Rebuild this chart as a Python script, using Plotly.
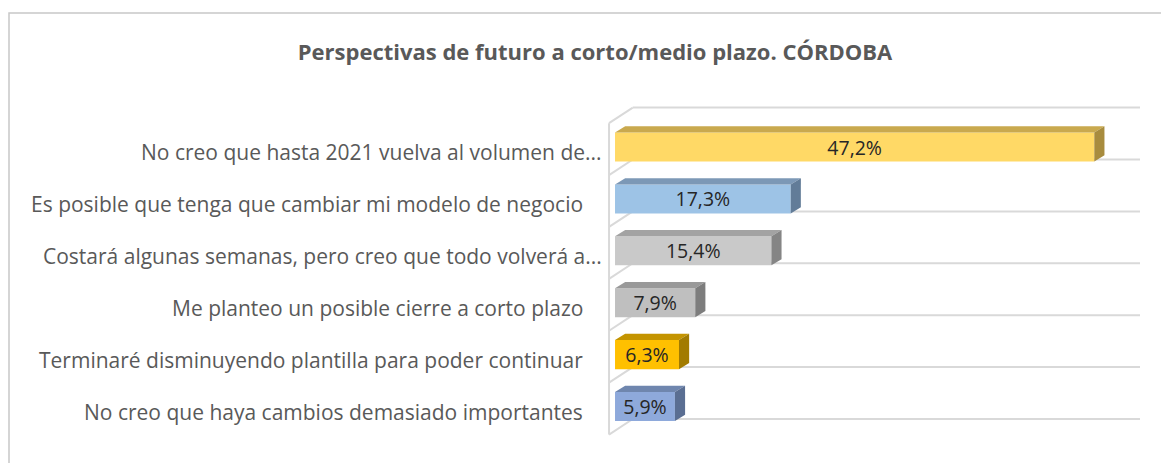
import plotly.graph_objects as go

# ---------------- data ----------------
categories = [
    "No creo que hasta 2021 vuelva al volumen de...",
    "Es posible que tenga que cambiar mi modelo de negocio",
    "Costará algunas semanas, pero creo que todo volverá a...",
    "Me planteo un posible cierre a corto plazo",
    "Terminaré disminuyendo plantilla para poder continuar",
    "No creo que haya cambios demasiado importantes",
]
values = [47.2, 17.3, 15.4, 7.9, 6.3, 5.9]
title_text = "Perspectivas de futuro a corto/medio plazo. CÓRDOBA"

front_colors = ["#FFD966", "#9DC3E6", "#C9C9C9", "#BFBFBF", "#FFC000", "#8EA9DB"]
top_colors = ["#C9A94E", "#7C98B6", "#A3A3A3", "#999999", "#C49400", "#6F86AE"]
side_colors = ["#A88C3E", "#627C98", "#858585", "#7D7D7D", "#A27B00", "#5A6E92"]

FONT = "'Open Sans', Lato, sans-serif"

# ---------------- geometry (style) ----------------
W = 0.56        # bar thickness (category units)
DX = 1.0        # 3D depth in x units
DY = 0.12       # 3D depth in category units
XMIN, XMAX = -0.79, 51.7
YTOP, YBOT = -0.906, 5.645
WALL_X = -0.59
BACK_X = 1.75
OFF = 8  # page body margin in px

L = 607 - OFF
T = 100 - OFF
R = 1169 - (1140 - OFF)
B = 463 - (440 - OFF)
PW = 1169 - L - R
PH = 463 - T - B

pos = list(range(len(categories)))

fig = go.Figure()

# 3D top and side faces of each bar
for i, v in enumerate(values):
    y0 = pos[i] - W / 2
    y1 = pos[i] + W / 2
    fig.add_trace(go.Scatter(
        x=[0, v, v + DX, DX, 0], y=[y0, y0, y0 - DY, y0 - DY, y0],
        fill="toself", fillcolor=top_colors[i], mode="lines",
        line=dict(width=0, color=top_colors[i]), hoverinfo="skip", showlegend=False))
    fig.add_trace(go.Scatter(
        x=[v, v + DX, v + DX, v, v], y=[y0, y0 - DY, y1 - DY, y1, y0],
        fill="toself", fillcolor=side_colors[i], mode="lines",
        line=dict(width=0, color=side_colors[i]), hoverinfo="skip", showlegend=False))

labels = [f"{v:.1f}".replace(".", ",") + "%" for v in values]
fig.add_trace(go.Bar(
    x=values, y=pos, orientation="h", width=W,
    marker=dict(color=front_colors, line=dict(width=0)),
    text=labels, textposition="inside", insidetextanchor="middle",
    constraintext="none",
    textfont=dict(family=FONT, size=19.5, color="#262626"),
    hoverinfo="skip", showlegend=False))

# walls / gridlines (decoration, below traces)
shapes = []
gcol = "#D9D9D9"
for b in [-1] + pos:
    shapes.append(dict(type="line", xref="x", yref="y", x0=BACK_X, x1=XMAX,
                       y0=b + 0.24, y1=b + 0.24, line=dict(color=gcol, width=2), layer="below"))
    shapes.append(dict(type="line", xref="x", yref="y", x0=WALL_X, x1=BACK_X,
                       y0=b + 0.54, y1=b + 0.24, line=dict(color=gcol, width=2), layer="below"))
shapes.append(dict(type="line", xref="x", yref="y", x0=WALL_X, x1=WALL_X,
                   y0=-0.46, y1=pos[-1] + 0.54, line=dict(color=gcol, width=2), layer="below"))
# chart border (left + top)
shapes.append(dict(type="rect", xref="paper", yref="paper",
                   x0=(1 - L) / PW, x1=(1300 - L) / PW,
                   y0=(T + PH - 500) / PH, y1=(T + PH - (13 - OFF)) / PH,
                   line=dict(color="#C8C8C8", width=1.5), layer="below"))

annotations = []
for i, c in enumerate(categories):
    annotations.append(dict(
        x=0, xref="paper", y=pos[i], yref="y", text=c, showarrow=False,
        xanchor="right", yanchor="middle",
        xshift=-3 if c.endswith("...") else -22, yshift=-5,
        font=dict(family=FONT, size=21, color="#595959")))

fig.update_layout(
    width=1169, height=463,
    margin=dict(l=L, r=R, t=T, b=B),
    paper_bgcolor="white", plot_bgcolor="white",
    title=dict(text="<b>" + title_text + "</b>", x=(595 - OFF) / 1169, xref="container",
               xanchor="center", y=1 - (52 - OFF) / 463, yref="container", yanchor="middle",
               font=dict(family=FONT, size=22, color="#595959")),
    xaxis=dict(range=[XMIN, XMAX], visible=False, fixedrange=True),
    yaxis=dict(range=[YBOT, YTOP], visible=False, fixedrange=True),
    shapes=shapes, annotations=annotations,
    showlegend=False,
)

fig.write_html("out.html")
